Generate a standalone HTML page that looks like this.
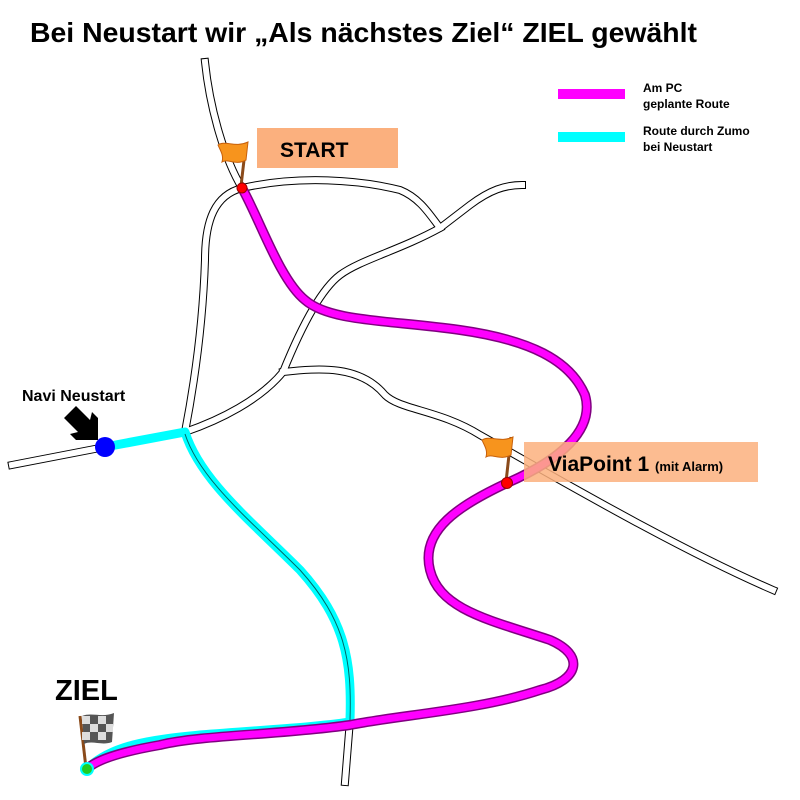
<!DOCTYPE html>
<html><head><meta charset="utf-8"><style>
html,body{margin:0;padding:0;background:#fff;}
svg{display:block;font-family:"Liberation Sans",sans-serif;}
</style></head><body>
<svg width="800" height="800" viewBox="0 0 800 800" xmlns="http://www.w3.org/2000/svg">
<text x="30" y="42" font-size="28" font-weight="bold" textLength="667" lengthAdjust="spacingAndGlyphs">Bei Neustart wir „Als nächstes Ziel“ ZIEL gewählt</text>

<!-- roads -->
<g fill="none" stroke-linejoin="round">
<g stroke="#000" stroke-width="8" stroke-linecap="square">
<path d="M205,62 C210,110 225,160 242,188"/>
<path d="M242,188 C300,175 360,180 400,190 C420,198 430,215 440,228 L470,205 C490,190 505,185 522,185"/>
<path d="M242,188 C215,195 205,220 205,260 C203,320 195,380 185,432"/>
<path d="M440,228 C400,250 360,260 340,275 C320,290 300,330 283,372 C260,400 220,420 185,432"/>
<path d="M283,372 C320,368 360,365 385,395 C400,410 440,410 480,435 C560,480 680,550 773,590"/>
<path d="M12,465 L105,447 L185,432"/>
<path d="M185,432 C200,480 250,520 300,570 C345,620 352,660 350,720 L345,782"/>
</g>
<g stroke="#fff" stroke-width="6" stroke-linecap="square">
<path d="M205,62 C210,110 225,160 242,188"/>
<path d="M242,188 C300,175 360,180 400,190 C420,198 430,215 440,228 L470,205 C490,190 505,185 522,185"/>
<path d="M242,188 C215,195 205,220 205,260 C203,320 195,380 185,432"/>
<path d="M440,228 C400,250 360,260 340,275 C320,290 300,330 283,372 C260,400 220,420 185,432"/>
<path d="M283,372 C320,368 360,365 385,395 C400,410 440,410 480,435 C560,480 680,550 773,590"/>
<path d="M12,465 L105,447 L185,432"/>
<path d="M185,432 C200,480 250,520 300,570 C345,620 352,660 350,720 L345,782"/>
</g>
</g>

<!-- cyan route -->
<g fill="none" stroke="#00ffff" stroke-width="9" stroke-linejoin="round" stroke-linecap="round">
<path d="M105,447 L185,432 C200,480 250,520 300,570 C345,620 352,660 350,720"/>
<path d="M86,770 C110,745 150,740 200,735 C260,730 310,728 350,722"/>
</g>
<path d="M185,434 C200,480 250,520 300,570 C345,620 352,660 350,720" fill="none" stroke="#000" stroke-width="1" opacity="0.6"/>

<!-- magenta route -->
<path d="M242,188 C260,220 280,280 305,300 C330,322 390,320 460,330 C530,340 570,360 585,395 C595,430 560,460 507,483 C460,505 420,530 430,570 C440,610 490,620 550,640 C585,655 580,680 540,690 C480,710 400,715 350,725 C280,735 200,735 160,745 C120,752 95,760 86,770" fill="none" stroke="#800080" stroke-width="10" stroke-linecap="round"/>
<path d="M242,188 C260,220 280,280 305,300 C330,322 390,320 460,330 C530,340 570,360 585,395 C595,430 560,460 507,483 C460,505 420,530 430,570 C440,610 490,620 550,640 C585,655 580,680 540,690 C480,710 400,715 350,725 C280,735 200,735 160,745 C120,752 95,760 86,770" fill="none" stroke="#ff00ff" stroke-width="7" stroke-linecap="round"/>

<!-- boxes -->
<rect x="257" y="128" width="141" height="40" fill="#fbb07e"/>
<text x="280" y="157" font-size="21" font-weight="bold">START</text>
<rect x="524" y="442" width="234" height="40" fill="#fbb07e" opacity="0.85"/>
<text x="548" y="471" font-size="21" font-weight="bold">ViaPoint 1 <tspan font-size="13">(mit Alarm)</tspan></text>

<!-- flags -->
<g>
<line x1="241" y1="186" x2="246" y2="143" stroke="#8a4a1a" stroke-width="3"/>
<path d="M218,145 C225,140 235,148 248,142 L246,160 C235,166 228,158 222,162 C224,155 220,150 218,145Z" fill="#f7941d" stroke="#c8600a"/>
<line x1="506" y1="482" x2="511" y2="437" stroke="#8a4a1a" stroke-width="3"/>
<path d="M482,440 C490,435 500,443 513,437 L511,455 C500,461 492,453 486,457 C488,450 484,445 482,440Z" fill="#f7941d" stroke="#c8600a"/>
<line x1="86" y1="768" x2="80" y2="716" stroke="#8a4a1a" stroke-width="3"/>
<path d="M82,716 C92,712 102,718 114,713 L112,742 C102,746 92,740 84,744Z" fill="#555"/>
<path d="M82,716 h8v8h-8z M98,716h8v8h-8z M90,724h8v8h-8z M106,724h7v8h-7z M82,732h8v8h-8z M98,732h8v8h-8z" fill="#ddd"/>
</g>

<circle cx="242" cy="188" r="5" fill="#f00" stroke="#900"/>
<circle cx="507" cy="483" r="5.5" fill="#f00" stroke="#900"/>
<circle cx="87" cy="769" r="6" fill="#2c2" stroke="#0ff" stroke-width="2"/>
<circle cx="105" cy="447" r="10" fill="#0000ff"/>

<text x="55" y="700" font-size="29" font-weight="bold">ZIEL</text>
<text x="22" y="401" font-size="16" font-weight="bold">Navi Neustart</text>
<path d="M70,412 L76,406 L90,420 L92,412 L98,418 L98,440 L76,440 L70,434 L78,432 L64,418Z" fill="#000"/>

<!-- legend -->
<rect x="558" y="89" width="67" height="10" fill="#ff00ff"/>
<rect x="558" y="132" width="67" height="10" fill="#00ffff"/>
<g font-size="12" font-weight="bold">
<text x="643" y="92">Am PC</text>
<text x="643" y="108">geplante Route</text>
<text x="643" y="135">Route durch Zumo</text>
<text x="643" y="151">bei Neustart</text>
</g>
</svg>
</body></html>
